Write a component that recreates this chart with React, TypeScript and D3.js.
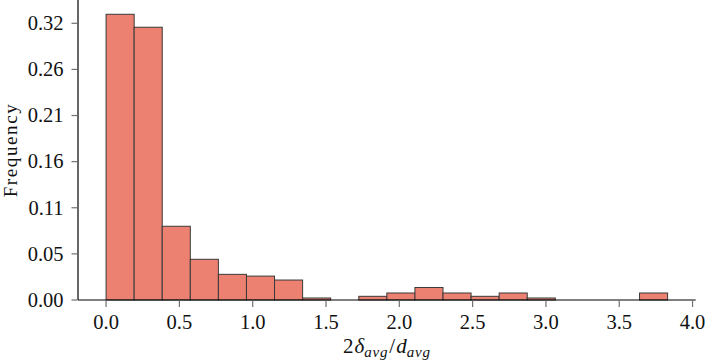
import React, { useEffect } from "react";
import * as d3 from "d3";

const binStart = 0;
const binEnd = 3.83;
const binCount = 20;
const frequencies = [
  0.3263, 0.3115, 0.0842, 0.0465, 0.0293, 0.0273, 0.0228, 0.0023, 0.0, 0.0042,
  0.008, 0.0143, 0.008, 0.0042, 0.008, 0.0023, 0.0, 0.0, 0.0, 0.008,
];
const xTicks = [0, 0.5, 1, 1.5, 2, 2.5, 3, 3.5, 4];
const yTickLabels = ["0.00", "0.05", "0.11", "0.16", "0.21", "0.26", "0.32"];
const yTickTop = 0.316;

const W = 706;
const H = 363;
const left = 78;
const right = 695.7;
const top = 0;
const bottom = 300;
const FONT = "'Liberation Serif', 'DejaVu Serif', serif";

export default function App() {
  useEffect(() => {
    document.body.style.margin = "0";
  }, []);

  const binW = (binEnd - binStart) / binCount;
  const xPad = (binEnd - binStart) * 0.05;
  const x = d3.scaleLinear().domain([binStart - xPad, binEnd + xPad]).range([left, right]);
  const yMax = (d3.max(frequencies) as number) * 1.05;
  const y = d3.scaleLinear().domain([0, yMax]).range([bottom, top]);
  const yTickVals = yTickLabels.map((_, i) => (yTickTop * i) / (yTickLabels.length - 1));

  return (
    <svg width={W} height={H} style={{ display: "block" }} fontFamily={FONT}>
      <rect x={0} y={0} width={W} height={H} fill="#fff" />
      {frequencies.map((f, i) => {
        if (f <= 0) return null;
        const x0 = x(binStart + i * binW);
        const x1 = x(binStart + (i + 1) * binW);
        return (
          <rect
            key={i}
            x={x0}
            y={y(f)}
            width={x1 - x0}
            height={y(0) - y(f)}
            fill="#ec8171"
            stroke="#3a3a3a"
            strokeWidth={1}
          />
        );
      })}
      {/* spines */}
      <line x1={left} x2={left} y1={top} y2={bottom} stroke="#000" strokeWidth={1.2} />
      <line x1={left} x2={right} y1={bottom} y2={bottom} stroke="#000" strokeWidth={1.2} />
      {/* x ticks */}
      {xTicks.map((t) => (
        <g key={t}>
          <line x1={x(t)} x2={x(t)} y1={bottom + 0.6} y2={bottom + 7} stroke="#707070" strokeWidth={1.2} />
          <text x={x(t)} y={329} textAnchor="middle" fontSize={20.5} fill="#111">
            {t.toFixed(1)}
          </text>
        </g>
      ))}
      {/* y ticks */}
      {yTickVals.map((v, i) => (
        <g key={i}>
          <line x1={left - 6.5} x2={left - 0.6} y1={y(v)} y2={y(v)} stroke="#707070" strokeWidth={1.2} />
          <text x={63.5} y={y(v)} dy="0.33em" textAnchor="end" fontSize={20.5} fill="#111">
            {yTickLabels[i]}
          </text>
        </g>
      ))}
      {/* y label */}
      <text
        transform={`translate(16.5,${(top + bottom) / 2}) rotate(-90)`}
        textAnchor="middle"
        fontSize={19}
        letterSpacing={1.6}
        fill="#111"
      >
        Frequency
      </text>
      {/* x label */}
      <text x={(left + right) / 2} y={353} textAnchor="middle" fontSize={21} fill="#111">
        <tspan>2</tspan>
        <tspan fontStyle="italic" dx={1}>δ</tspan>
        <tspan fontStyle="italic" fontSize={15} dy={4} letterSpacing={0.8}>avg</tspan>
        <tspan dy={-4} dx={1}>/</tspan>
        <tspan fontStyle="italic" dx={1}>d</tspan>
        <tspan fontStyle="italic" fontSize={15} dy={4} letterSpacing={0.8}>avg</tspan>
      </text>
    </svg>
  );
}
